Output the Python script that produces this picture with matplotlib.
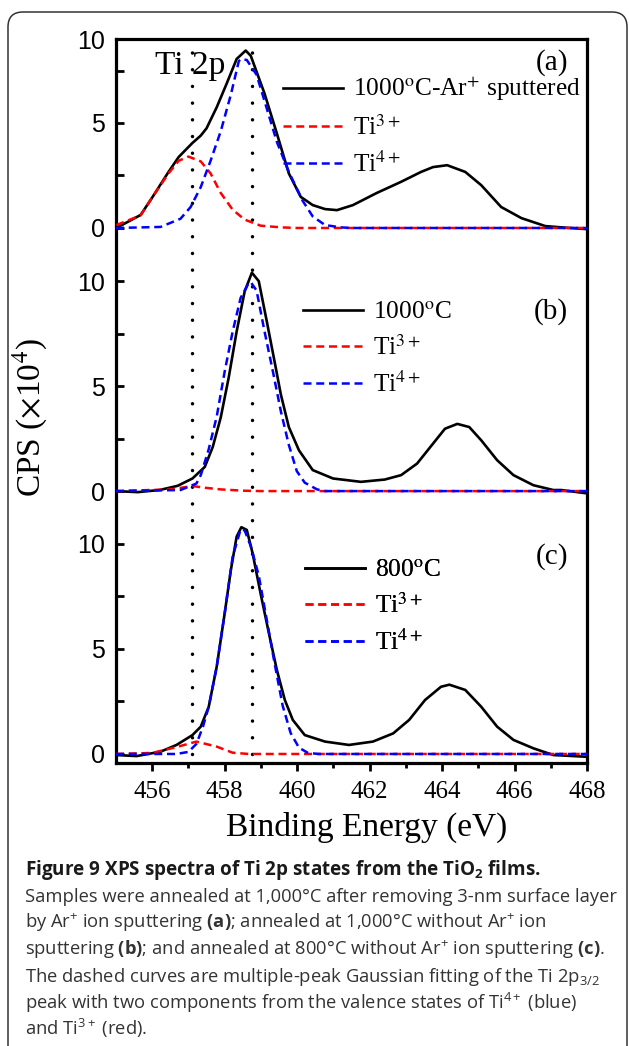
import numpy as np
import matplotlib
matplotlib.use('Agg')
import matplotlib.pyplot as plt
from matplotlib.patches import FancyBboxPatch

plt.rcParams['font.family'] = ['Liberation Serif', 'DejaVu Serif']
plt.rcParams['mathtext.fontset'] = 'stix'
plt.rcParams['mathtext.rm'] = 'Open Sans'
plt.rcParams['mathtext.bf'] = 'Open Sans:bold'
plt.rcParams['mathtext.it'] = 'Open Sans:italic'

# ---- data (binding energy in eV, CPS x 1e4) ----
# (a) 1000C, Ar+ sputtered
a_tot_e = [455.01, 455.68, 456.01, 456.45, 456.73, 457.11, 457.34, 457.5, 457.78, 458.06,
           458.33, 458.58, 458.72, 459.1, 459.44, 459.77, 460.1, 460.43, 460.77, 461.1,
           461.54, 462.2, 462.87, 463.42, 463.75, 464.14, 464.64, 465.08, 465.63, 466.19,
           466.85, 467.29, 467.96]
a_tot_v = [0.0, 0.62, 1.48, 2.67, 3.38, 4.05, 4.4, 4.75, 5.75, 6.9,
           8.05, 8.45, 8.2, 6.4, 4.5, 2.6, 1.48, 1.09, 0.9, 0.85,
           1.09, 1.67, 2.2, 2.67, 2.9, 2.99, 2.67, 2.04, 1.0, 0.47,
           0.09, 0.03, -0.05]
a_ti3_e = [455.01, 455.68, 456.01, 456.45, 456.73, 457.0, 457.34, 457.61, 457.89, 458.22,
           458.55, 458.99, 459.55, 460.0, 468.0]
a_ti3_v = [0.14, 0.6, 1.48, 2.6, 3.2, 3.4, 3.17, 2.6, 1.67, 0.87,
           0.4, 0.11, 0.03, 0.0, 0.0]
a_ti4_e = [455.0, 456.23, 456.78, 457.06, 457.34, 457.61, 457.89, 458.17, 458.39, 458.46,
           458.61, 458.88, 459.16, 459.44, 459.77, 460.15, 460.43, 460.77, 461.2, 461.5, 468.0]
a_ti4_v = [0.0, 0.05, 0.44, 1.0, 1.95, 3.2, 4.6, 6.35, 7.95, 8.05,
           8.0, 7.3, 5.7, 4.1, 2.67, 1.3, 0.55, 0.14, 0.03, 0.0, 0.0]

# (b) 1000C
b_tot_e = [455.0, 455.6, 456.2, 456.7, 457.11, 457.45, 457.67, 457.89, 458.11, 458.33,
           458.55, 458.75, 458.94, 459.16, 459.39, 459.55, 459.77, 460.05, 460.43, 460.99,
           461.76, 462.42, 462.87, 463.31, 463.75, 464.08, 464.42, 464.75, 465.08, 465.52,
           465.97, 466.52, 467.07, 467.29, 467.96]
b_tot_v = [0.0, -0.05, 0.05, 0.25, 0.6, 1.15, 2.1, 3.5, 5.4, 7.6,
           9.5, 10.4, 10.0, 8.1, 6.05, 4.6, 3.05, 1.94, 1.0, 0.6,
           0.44, 0.55, 0.76, 1.31, 2.26, 2.97, 3.2, 3.05, 2.42, 1.47,
           0.76, 0.28, 0.05, 0.05, -0.1]
b_ti3_e = [455.0, 456.5, 457.11, 457.5, 457.89, 458.5, 459.0, 468.0]
b_ti3_v = [0.0, 0.08, 0.24, 0.15, 0.08, 0.02, 0.0, 0.0]
b_ti4_e = [455.0, 456.78, 457.22, 457.34, 457.56, 457.78, 458.0, 458.22, 458.44, 458.66,
           458.72, 458.88, 459.1, 459.33, 459.55, 459.77, 459.99, 460.21, 460.55, 460.77, 468.0]
b_ti4_v = [0.0, 0.05, 0.36, 0.76, 2.0, 3.55, 5.7, 7.6, 9.2, 9.9,
           9.95, 9.55, 7.6, 5.7, 3.8, 2.2, 0.95, 0.4, 0.08, 0.0, 0.0]

# (c) 800C
c_tot_e = [455.01, 455.57, 456.23, 456.67, 457.11, 457.34, 457.56, 457.78, 458.0, 458.17,
           458.33, 458.46, 458.61, 458.77, 458.99, 459.22, 459.44, 459.66, 459.88, 460.21,
           460.77, 461.43, 462.09, 462.65, 463.09, 463.53, 463.97, 464.2, 464.64, 465.08,
           465.52, 465.97, 466.52, 467.07, 467.96]
c_tot_v = [-0.05, -0.1, 0.11, 0.43, 0.9, 1.3, 2.25, 4.16, 6.7, 8.76,
           10.35, 10.8, 10.67, 9.56, 7.65, 5.75, 4.0, 2.57, 1.62, 0.9,
           0.59, 0.43, 0.59, 0.98, 1.62, 2.57, 3.2, 3.3, 3.05, 2.25,
           1.3, 0.67, 0.27, -0.05, -0.13]
c_ti3_e = [455.0, 456.0, 456.67, 457.22, 457.78, 458.22, 458.66, 468.0]
c_ti3_v = [0.0, 0.05, 0.33, 0.59, 0.35, 0.06, 0.0, 0.0]
c_ti4_e = [455.0, 456.67, 457.0, 457.22, 457.4, 457.56, 457.78, 458.0, 458.22, 458.44,
           458.55, 458.72, 458.94, 459.16, 459.39, 459.6, 459.82, 460.05, 460.3, 460.6, 468.0]
c_ti4_v = [0.0, 0.0, 0.1, 0.48, 1.3, 2.25, 4.16, 6.7, 9.4, 10.7,
           10.65, 9.9, 8.5, 6.4, 4.2, 2.3, 1.0, 0.3, 0.05, 0.0, 0.0]

peak_lines = [457.09, 458.74]
panel_tags = ['(a)', '(b)', '(c)']
total_labels = [r'1000$^{\mathrm{o}}$C-Ar$^{+}$ sputtered', r'1000$^{\mathrm{o}}$C', r'800$^{\mathrm{o}}$C']
x_ticks = [456, 458, 460, 462, 464, 466, 468]

# ---- layout ----
offsets = [25.05, 12.52, 0.0]
y_lo, y_hi = -0.43, 34.05
leg_pos = [(0.3546, 0.880), (0.397, 0.572), (0.401, 0.2155)]
tag_y = [0.967, 0.624, 0.2845]

fig = plt.figure(figsize=(6.29, 10.46), dpi=100)
ax = fig.add_axes([0.18442, 0.27055, 0.74881, 0.69216])

panels = [(a_tot_e, a_tot_v, a_ti3_e, a_ti3_v, a_ti4_e, a_ti4_v),
          (b_tot_e, b_tot_v, b_ti3_e, b_ti3_v, b_ti4_e, b_ti4_v),
          (c_tot_e, c_tot_v, c_ti3_e, c_ti3_v, c_ti4_e, c_ti4_v)]

for xp in peak_lines:
    ax.plot([xp, xp], [0, y_hi], color='black', lw=2.5,
            linestyle=(0, (0.01, 4.8)), dash_capstyle='round', zorder=1)

dash = (0, (3.2, 1.9))
for i, (te, tv, e3, v3, e4, v4) in enumerate(panels):
    off = offsets[i]
    l1, = ax.plot(te, np.array(tv) + off, color='black', lw=1.9, zorder=3,
                  label=total_labels[i])
    l2, = ax.plot(e3, np.array(v3) + off, color='#ff0000', lw=1.8, linestyle=dash,
                  zorder=4, label=r'Ti$^{3+}$')
    l3, = ax.plot(e4, np.array(v4) + off, color='#0000ff', lw=1.8, linestyle=dash,
                  zorder=5, label=r'Ti$^{4+}$')
    leg = ax.legend(handles=[l1, l2, l3], loc='center left', bbox_to_anchor=leg_pos[i],
                    frameon=False, fontsize=18.3, handlelength=2.36, handletextpad=0.4,
                    labelspacing=0.45, borderpad=0, borderaxespad=0)
    ax.add_artist(leg)
    ax.text(0.96, tag_y[i], panel_tags[i], transform=ax.transAxes, ha='right',
            va='center', fontsize=21)

ax.text(0.083, 0.963, 'Ti 2p', transform=ax.transAxes, ha='left', va='center', fontsize=24)

ax.set_xlim(455, 468)
ax.set_ylim(y_lo, y_hi)

# y ticks: 0 / 5 / 10 repeated for each stacked spectrum
maj, labs, mnr = [], [], []
for off in offsets:
    for v, s in [(0, '0'), (5, '5'), (10, '10')]:
        if off + v < y_hi:
            maj.append(off + v)
            labs.append(s)
    mnr += [off + 2.5, off + 7.5]
maj.append(y_hi)
labs.append('10')
ax.set_yticks(maj, labs)
ax.set_yticks(mnr, minor=True)
ax.set_xticks(x_ticks)
ax.set_xticks([457, 459, 461, 463, 465, 467], minor=True)

ax.tick_params(axis='y', which='both', direction='in', length=6, width=2.0, pad=8,
               labelsize=18, labelfontfamily='Liberation Sans')
ax.tick_params(axis='x', which='major', direction='out', length=6, width=2.0, pad=7,
               labelsize=18)
ax.tick_params(axis='x', which='minor', direction='out', length=3.5, width=2.0)
for sp in ax.spines.values():
    sp.set_linewidth(2.3)

ax.set_ylabel(r'CPS ($\times$10$^{4}$)', fontsize=24)
ax.yaxis.set_label_coords(-0.14, 0.4765)
ax.set_xlabel('Binding Energy (eV)', fontsize=24)
ax.xaxis.set_label_coords(0.532, -0.0677)

# outer rounded frame
frame = FancyBboxPatch((0.08, -0.3), 6.19, 10.64, boxstyle='round,pad=0,rounding_size=0.15',
                       transform=fig.dpi_scale_trans, fill=False, lw=1.1, ec='#333333')
fig.patches.append(frame)

# caption
cap_font = ['Open Sans', 'DejaVu Sans']
fig.text(25 / 629, 1 - 870 / 1046,
         r'Figure 9 XPS spectra of Ti 2p states from the TiO$_{\mathbf{2}}$ films.',
         fontsize=13.6, fontweight='bold', family=cap_font, va='center', color='#1a1a1a',
         math_fontfamily='custom')
cap_lines = [
    'Samples were annealed at 1,000\u00b0C after removing 3-nm surface layer',
    r'by Ar$^{\mathrm{+}}$ ion sputtering $\mathbf{(a)}$; annealed at 1,000' + '\u00b0C without Ar$^{\\mathrm{+}}$ ion',
    r'sputtering $\mathbf{(b)}$; and annealed at 800' + '\u00b0C without Ar$^{\\mathrm{+}}$ ion sputtering $\\mathbf{(c)}$.',
    r'The dashed curves are multiple-peak Gaussian fitting of the Ti 2p$_{\mathrm{3/2}}$',
    r'peak with two components from the valence states of Ti$^{\mathrm{4+}}$ (blue)',
    r'and Ti$^{\mathrm{3+}}$ (red).',
]
cap_y = [897, 923, 950, 977, 1003, 1028]
for s, yy in zip(cap_lines, cap_y):
    fig.text(25 / 629, 1 - yy / 1046, s, fontsize=13.2, family=cap_font, va='center',
             color='#333333', math_fontfamily='custom')

fig.savefig('out.png', dpi=100)
